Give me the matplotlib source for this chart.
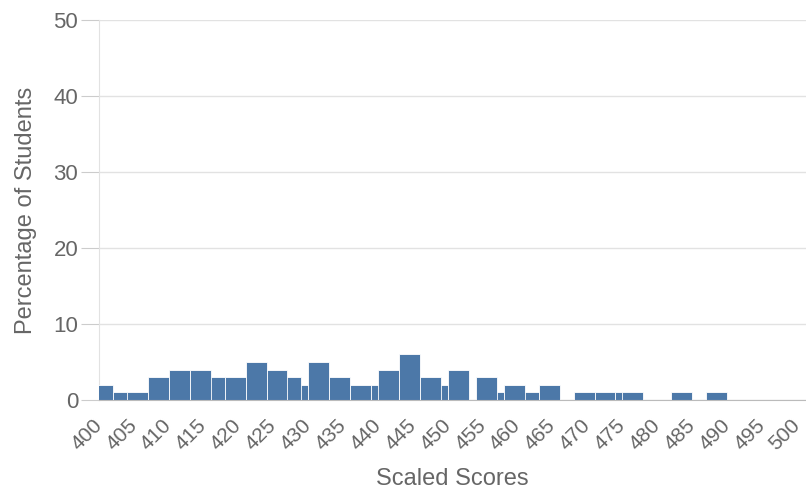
import matplotlib
matplotlib.use('Agg')
import matplotlib.pyplot as plt

plt.rcParams['font.family'] = ['Liberation Sans', 'DejaVu Sans']

# Баллы (правый край столбца) и доля учащихся, %
scores = [402, 405, 407, 410, 413, 416, 418, 421, 424, 427, 429, 430,
          433, 436, 439, 442, 443, 446, 449, 450, 453, 457, 458, 461,
          463, 466, 471, 474, 477, 478, 485, 490]
percents = [2, 1, 1, 3, 4, 4, 3, 3, 5, 4, 3, 2,
            5, 3, 2, 2, 4, 6, 3, 2, 4, 3, 1, 2,
            1, 2, 1, 1, 1, 1, 1, 1]
bar_width = 3

y_ticks = [0, 10, 20, 30, 40, 50]
x_ticks = list(range(400, 501, 5))

text_color = '#666666'
bar_color = '#4c78a8'

fig = plt.figure(figsize=(8.06, 4.96), dpi=100)
ax = fig.add_axes([99 / 806, 1 - 400 / 496, 707 / 806, 380 / 496])

# более высокие столбцы рисуем поверх
order = sorted(range(len(scores)), key=lambda i: (percents[i], scores[i]))
for z, i in enumerate(order):
    ax.bar(scores[i] - bar_width, percents[i], width=bar_width, align='edge',
           color=bar_color, edgecolor='white', linewidth=0.6, zorder=3 + z)

ax.set_xlim(400, 501.3)
ax.set_ylim(0, 50)
ax.set_yticks(y_ticks)
ax.set_xticks(x_ticks)
ax.set_xticklabels([str(t) for t in x_ticks], rotation=45, ha='right',
                   va='center', rotation_mode='anchor')

ax.grid(axis='y', color='#e2e2e2', linewidth=1, zorder=0)
ax.set_axisbelow(True)

for side in ['top', 'right']:
    ax.spines[side].set_visible(False)
ax.spines['left'].set_color('#e2e2e2')
ax.spines['bottom'].set_color('#bbbbbb')
ax.spines['bottom'].set_zorder(100)

ax.tick_params(axis='y', length=13, color='#cccccc', labelsize=16,
               labelcolor=text_color, pad=2)
ax.tick_params(axis='x', length=0, labelsize=15, labelcolor=text_color, pad=16)

ax.set_ylabel('Percentage of Students', fontsize=17, color=text_color, labelpad=12)
ax.set_xlabel('Scaled Scores', fontsize=17, color=text_color, labelpad=10)

fig.savefig('out.png', dpi=100)
